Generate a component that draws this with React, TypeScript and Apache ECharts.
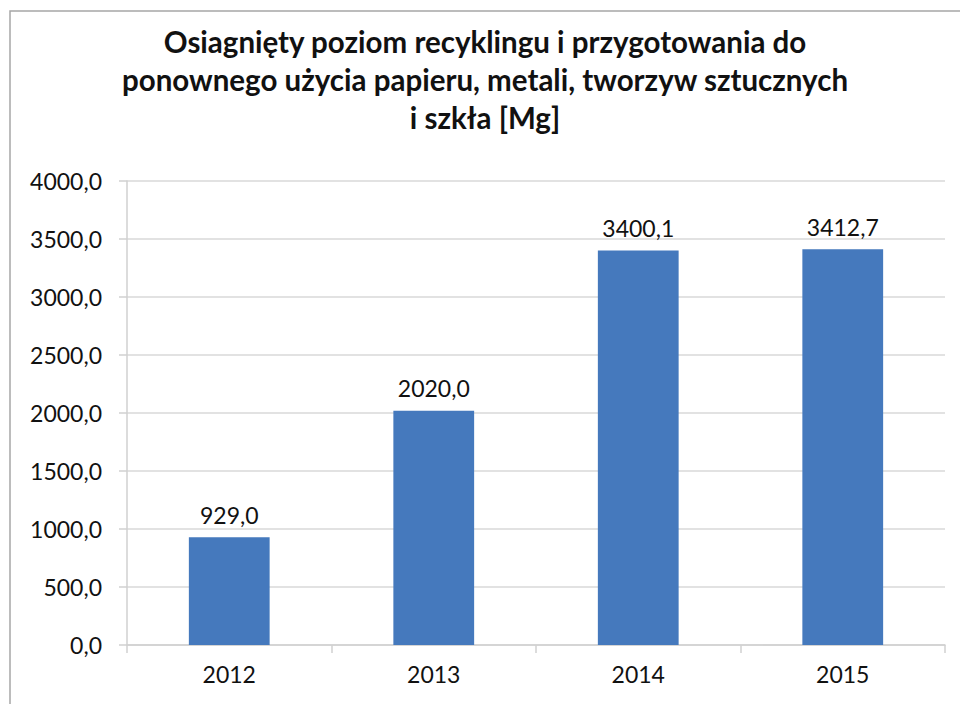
import React, { useEffect, useRef } from "react";
import * as echarts from "echarts";

const categories = ["2012", "2013", "2014", "2015"];
const values = [929.0, 2020.0, 3400.1, 3412.7];
const yTicks = { min: 0, max: 4000, interval: 500 };
const titleText =
  "Osiagnięty poziom recyklingu i przygotowania do\nponownego użycia papieru, metali, tworzyw sztucznych\ni szkła [Mg]";

const FONT = "Lato, 'Open Sans', sans-serif";
const fmt = (v: number) => v.toFixed(1).replace(".", ",");

export default function App() {
  const ref = useRef<HTMLDivElement>(null);
  useEffect(() => {
    if (!ref.current) return;
    const chart = echarts.init(ref.current, null, { renderer: "svg" });
    chart.setOption({
      animation: false,
      backgroundColor: "#ffffff",
      graphic: [
        {
          type: "rect",
          shape: { x: 10, y: 11, width: 1000, height: 800 },
          style: { fill: "none", stroke: "#a6a6a6", lineWidth: 1.5 },
          silent: true,
        },
      ],
      title: {
        text: titleText,
        left: 480,
        textAlign: "center",
        top: 17,
        textStyle: {
          fontFamily: FONT,
          fontWeight: "bold",
          fontSize: 29.5,
          lineHeight: 38,
          color: "#111111",
        },
      },
      grid: { left: 127, right: 15, top: 181, bottom: 59, containLabel: false },
      xAxis: {
        type: "category",
        data: categories,
        axisLine: { show: true, lineStyle: { color: "#d0d0d0", width: 1.5 } },
        axisTick: { show: true, length: 8, lineStyle: { color: "#d0d0d0", width: 1.5 } },
        axisLabel: {
          fontFamily: FONT,
          fontSize: 23,
          color: "#111111",
          margin: 17,
        },
      },
      yAxis: {
        type: "value",
        min: yTicks.min,
        max: yTicks.max,
        interval: yTicks.interval,
        axisLine: { show: true, lineStyle: { color: "#d0d0d0", width: 1.5 } },
        axisTick: { show: true, length: 8, lineStyle: { color: "#d0d0d0", width: 1.5 } },
        splitLine: { show: true, lineStyle: { color: "#d9d9d9", width: 1.5 } },
        axisLabel: {
          fontFamily: FONT,
          fontSize: 23,
          color: "#111111",
          margin: 25,
          formatter: (v: number) => fmt(v),
        },
      },
      series: [
        {
          type: "bar",
          data: values,
          barWidth: "39.5%",
          itemStyle: { color: "#4579bd" },
          label: {
            show: true,
            position: "top",
            distance: 11,
            fontFamily: FONT,
            fontSize: 23,
            color: "#111111",
            formatter: (p: any) => fmt(p.value),
          },
        },
      ],
    });
    return () => chart.dispose();
  }, []);
  return <div ref={ref} style={{ width: 960, height: 704, position: "absolute", left: 0, top: 0 }} />;
}
